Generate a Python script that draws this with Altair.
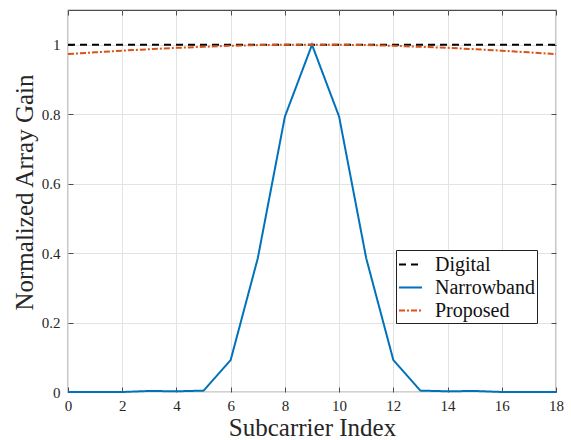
import altair as alt
import pandas as pd

x_idx = list(range(19))
digital = [1.0] * 19
narrowband = [0.0, 0.0, 0.0, 0.003, 0.002, 0.004, 0.092, 0.385, 0.793, 1.0,
              0.793, 0.385, 0.092, 0.004, 0.002, 0.003, 0.0, 0.0, 0.0]
proposed = [0.973, 0.978, 0.983, 0.987, 0.991, 0.994, 0.997, 0.999, 1.0, 1.0,
            1.0, 0.999, 0.997, 0.994, 0.991, 0.987, 0.983, 0.978, 0.973]
series_names = ["Digital", "Narrowband", "Proposed"]
series_colors = ["#000000", "#0072BD", "#D95319"]
series_dash = [[7, 5], [1, 0], [6, 2, 2, 2]]
x_ticks = list(range(0, 19, 2))
y_ticks = [0, 0.2, 0.4, 0.6, 0.8, 1.0]

rows = []
for name, vals in zip(series_names, [digital, narrowband, proposed]):
    for xi, v in zip(x_idx, vals):
        rows.append({"x": xi, "y": v, "series": name})
df = pd.DataFrame(rows)

FONT = "Liberation Serif"
AX = "#4d4d4d"

xs = alt.Scale(domain=[0, 18], nice=False, zero=False)
ys = alt.Scale(domain=[0, 1.1], nice=False)

legend_kw = dict(
    title=None, orient="none", legendX=328, legendY=240,
    symbolType="stroke", symbolStrokeWidth=2, symbolSize=529,
    labelFont=FONT, labelFontSize=20, labelColor="#111",
    strokeColor="#222", fillColor="white", padding=2,
    rowPadding=0, labelOffset=12, cornerRadius=0, labelLimit=300,
)

base = alt.Chart(df).mark_line(strokeWidth=2).encode(
    x=alt.X("x:Q", scale=xs, axis=alt.Axis(
        values=x_ticks, title="Subcarrier Index", offset=-5, tickSize=5,
        labelPadding=6, labelFlush=False, domain=False, tickColor=AX,
        gridColor="#e3e3e3", labelFont=FONT, labelFontSize=15,
        labelColor="#262626", titleFont=FONT, titleFontSize=25,
        titleFontWeight="normal", titleColor="#262626", titlePadding=2)),
    y=alt.Y("y:Q", scale=ys, axis=alt.Axis(
        values=y_ticks, format="~g", title="Normalized Array Gain", offset=-5,
        tickSize=5, labelPadding=8, labelFlush=False, domain=False,
        tickColor=AX, gridColor="#e3e3e3", labelFont=FONT, labelFontSize=15,
        labelColor="#262626", titleFont=FONT, titleFontSize=25,
        titleFontWeight="normal", titleColor="#262626", titlePadding=4,
        titleY=182, titleAlign="center")),
    color=alt.Color("series:N", scale=alt.Scale(domain=series_names, range=series_colors),
                    legend=alt.Legend(**legend_kw)),
    strokeDash=alt.StrokeDash("series:N", scale=alt.Scale(domain=series_names, range=series_dash),
                              legend=alt.Legend(**legend_kw)),
    order=alt.Order("series:N"),
)

top_right = alt.Chart(df).transform_filter(alt.datum.series == "Digital").mark_line(opacity=0).encode(
    x=alt.X("x:Q", scale=xs, axis=alt.Axis(
        orient="top", values=x_ticks, labels=False, title=None, offset=-5,
        tickSize=5, domain=False, grid=False, tickColor=AX)),
    y=alt.Y("y:Q", scale=ys, axis=alt.Axis(
        orient="right", values=y_ticks, labels=False, title=None, offset=-5,
        tickSize=5, domain=False, grid=False, tickColor=AX)),
)

chart = alt.layer(base, top_right).resolve_axis(x="independent", y="independent").properties(
    width=488, height=382,
    autosize=alt.AutoSizeParams(type="none"),
    padding={"left": 68, "top": 10, "right": 15, "bottom": 48},
    background="white",
).configure_view(stroke=AX, strokeWidth=1.2)

chart.save("out.html", embed_options={"renderer": "svg", "actions": False})
